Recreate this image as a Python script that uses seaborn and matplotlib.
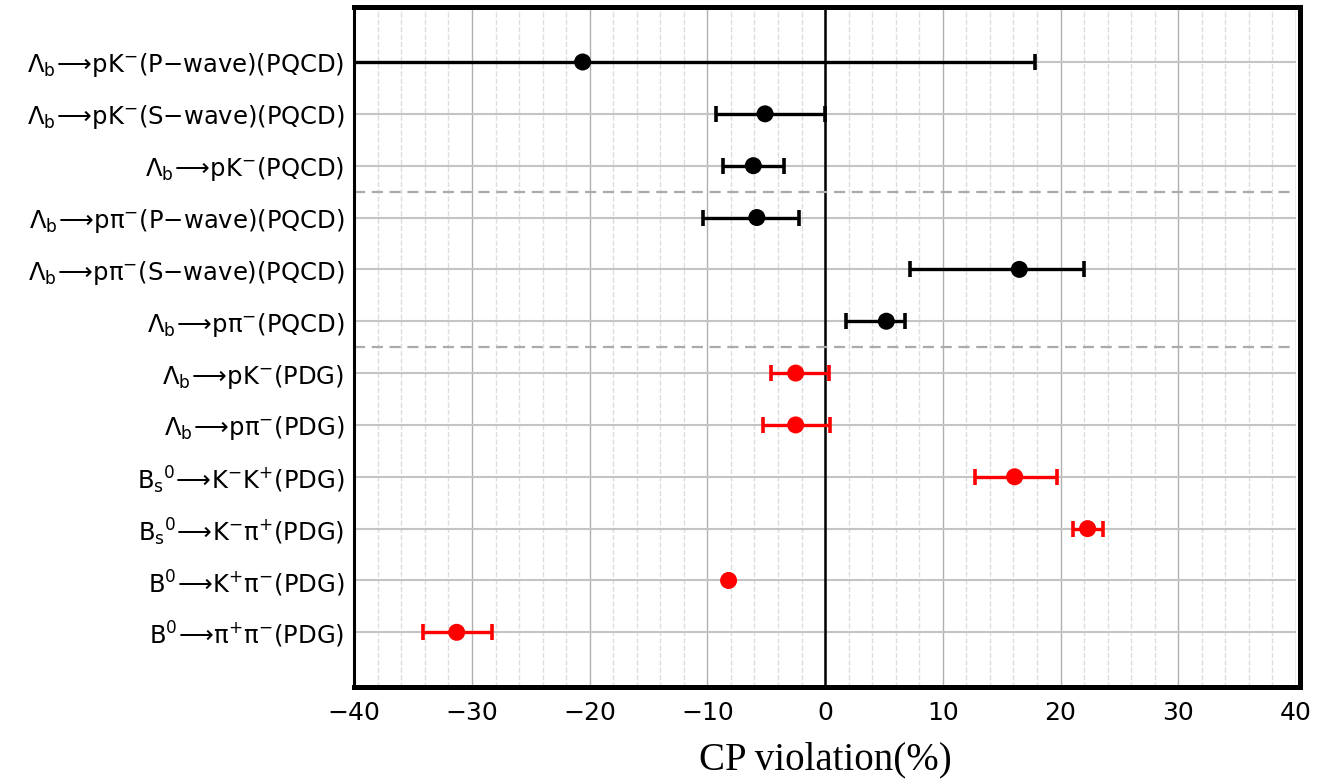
import numpy as np
import pandas as pd
import matplotlib.pyplot as plt
import seaborn as sns
from matplotlib.ticker import MultipleLocator

# decay channels, top to bottom
labels = [
    r'$\mathregular{\Lambda_b\!\longrightarrow\! pK^{-}}$(P−wave)(PQCD)',
    r'$\mathregular{\Lambda_b\!\longrightarrow\! pK^{-}}$(S−wave)(PQCD)',
    r'$\mathregular{\Lambda_b\!\longrightarrow\! pK^{-}}$(PQCD)',
    r'$\mathregular{\Lambda_b\!\longrightarrow\! p\pi^{-}}$(P−wave)(PQCD)',
    r'$\mathregular{\Lambda_b\!\longrightarrow\! p\pi^{-}}$(S−wave)(PQCD)',
    r'$\mathregular{\Lambda_b\!\longrightarrow\! p\pi^{-}}$(PQCD)',
    r'$\mathregular{\Lambda_b\!\longrightarrow\! pK^{-}}$(PDG)',
    r'$\mathregular{\Lambda_b\!\longrightarrow\! p\pi^{-}}$(PDG)',
    r'$\mathregular{B_s{}^{0}\!\longrightarrow\! K^{-}K^{+}}$(PDG)',
    r'$\mathregular{B_s{}^{0}\!\longrightarrow\! K^{-}\pi^{+}}$(PDG)',
    r'$\mathregular{B^{0}\!\longrightarrow\! K^{+}\pi^{-}}$(PDG)',
    r'$\mathregular{B^{0}\!\longrightarrow\! \pi^{+}\pi^{-}}$(PDG)',
]
source = ['PQCD'] * 6 + ['PDG'] * 6

# CP violation (%) central values and asymmetric errors
cp_value = [-20.6, -5.1, -6.1, -5.8, 16.5, 5.2, -2.5, -2.5, 16.1, 22.3, -8.2, -31.3]
err_low = [38.4, 4.2, 2.6, 4.6, 9.3, 3.4, 2.1, 2.8, 3.4, 1.2, 0.0, 2.9]
err_high = [38.4, 5.1, 2.6, 3.6, 5.5, 1.6, 2.8, 2.9, 3.6, 1.3, 0.0, 3.0]

df = pd.DataFrame({
    'pos': np.arange(len(labels)),
    'cp': cp_value,
    'lo': err_low,
    'hi': err_high,
    'source': source,
})

sns.set_style('white')
plt.rcParams['font.family'] = ['DejaVu Sans']
plt.rcParams['mathtext.fontset'] = 'dejavusans'
plt.rcParams['text.color'] = 'black'
plt.rcParams['axes.labelcolor'] = 'black'
plt.rcParams['xtick.color'] = 'black'
plt.rcParams['ytick.color'] = 'black'

colors = {'PQCD': 'black', 'PDG': 'red'}

fig, ax = plt.subplots(figsize=(13.17, 7.81), dpi=100)
fig.subplots_adjust(left=0.269, right=0.984, top=0.991, bottom=0.12)

# grid
ax.xaxis.set_major_locator(MultipleLocator(10))
ax.xaxis.set_minor_locator(MultipleLocator(2))
ax.grid(which='minor', axis='x', color='#dddddd', linestyle='--', linewidth=1)
ax.grid(which='major', axis='x', color='#b0b0b0', linestyle='-', linewidth=1)
ax.grid(which='major', axis='y', color='#c4c4c4', linestyle='-', linewidth=1.5)
ax.set_axisbelow(True)

# separators between groups
for sep in [2.5, 5.5]:
    ax.axhline(sep, color='#aaaaaa', linestyle='--', linewidth=1.6, dashes=(5, 3))
ax.axvline(0, color='black', linewidth=1.8, zorder=1.5)

for src, grp in df.groupby('source'):
    ax.errorbar(grp['cp'], grp['pos'], xerr=[grp['lo'], grp['hi']],
                fmt='none', ecolor=colors[src], elinewidth=2.4,
                capsize=5.5, capthick=2.6, zorder=3)

sns.scatterplot(data=df, x='cp', y='pos', hue='source', palette=colors,
                s=150, edgecolor='none', legend=False, ax=ax, zorder=4)

ax.set_xlim(-40, 40)
ax.set_ylim(12.06, -1.06)
ax.set_yticks(df['pos'])
ax.set_yticklabels(labels)
ax.tick_params(axis='y', length=0, pad=7, labelsize=17.5)
ax.tick_params(axis='x', length=0, pad=10, labelsize=18)
ax.set_ylabel('')
ax.set_xlabel('CP violation(%)', family='Liberation Serif', fontsize=28, labelpad=12)

for side in ['top', 'bottom', 'right']:
    ax.spines[side].set_linewidth(3.6)
ax.spines['left'].set_linewidth(2.2)
ax.spines['right'].set_position(('outward', 3))
for s in ax.spines.values():
    s.set_color('black')

plt.savefig('out.png', dpi=100)
